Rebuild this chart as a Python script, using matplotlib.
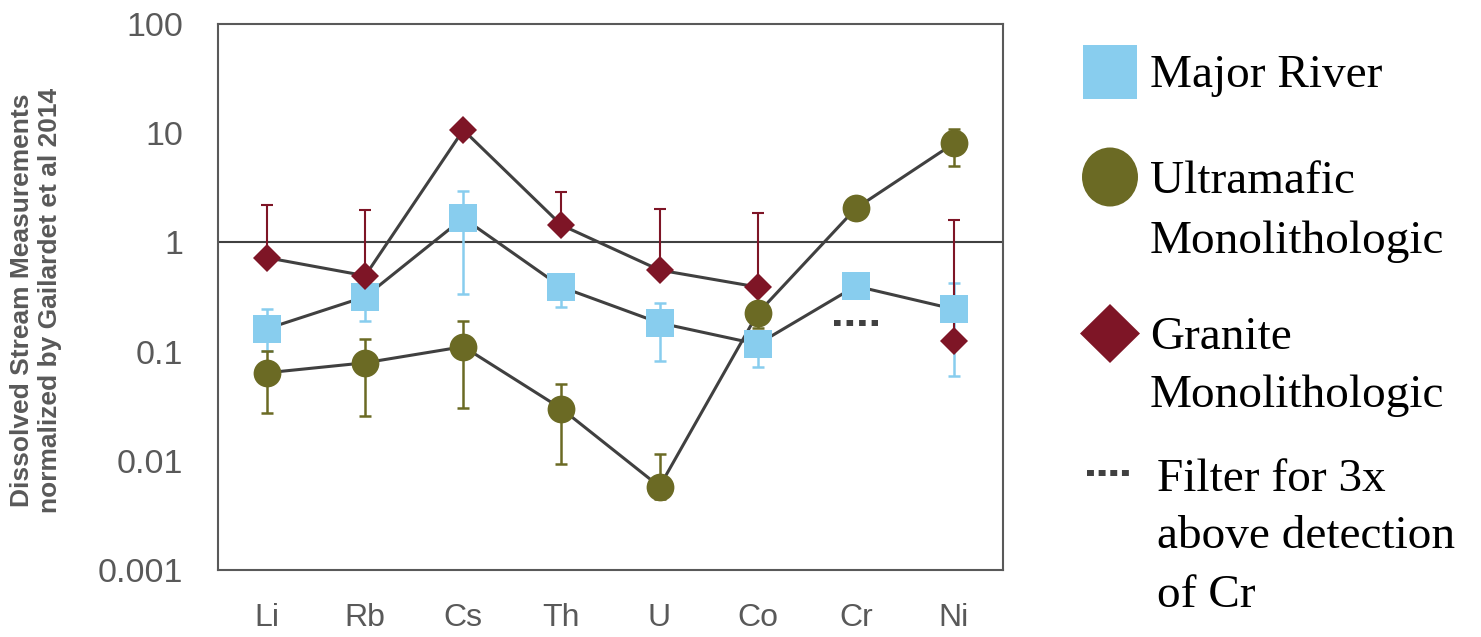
import numpy as np
import matplotlib
matplotlib.use("Agg")
import matplotlib.pyplot as plt
from matplotlib.patches import Rectangle, Ellipse, Polygon

# Element order along the x axis
elements = ["Li", "Rb", "Cs", "Th", "U", "Co", "Cr", "Ni"]

# Major river dissolved loads (normalized), with error bar limits
river = [0.162, 0.318, 1.67, 0.39, 0.183, 0.117, 0.398, 0.245]
river_low = [0.101, 0.19, 0.336, 0.258, 0.082, 0.072, 0.398, 0.060]
river_high = [0.246, 0.42, 2.96, 0.45, 0.277, 0.15, 0.398, 0.425]

# Ultramafic monolithologic streams
ultramafic = [0.064, 0.079, 0.111, 0.030, 0.0058, 0.224, 2.05, 8.08]
ultramafic_low = [0.0274, 0.0257, 0.0305, 0.0094, 0.0045, 0.164, 2.05, 5.0]
ultramafic_high = [0.101, 0.130, 0.192, 0.050, 0.0115, 0.27, 2.05, 10.9]

# Granite monolithologic streams (no Cr value, upper error only)
granite = [0.724, 0.495, 10.7, 1.44, 0.558, 0.39, np.nan, 0.126]
granite_high = [2.2, 1.97, 10.7, 2.9, 2.02, 1.87, np.nan, 1.6]

# Cr detection filter level
cr_filter = 0.182

blue = "#88CDEE"
olive = "#6B6A24"
red = "#7E1526"
dark = "#404040"
gray = "#595959"

x = np.arange(len(elements))
river = np.array(river)
ultramafic = np.array(ultramafic)
granite = np.array(granite)

fig = plt.figure(figsize=(14.81, 6.37), dpi=100)
ax = fig.add_axes([218 / 1481, 67 / 637, 785 / 1481, 546 / 637])

# error bars first so markers sit on top
ax.errorbar(x, river, yerr=[river - np.array(river_low), np.array(river_high) - river],
            fmt="none", ecolor=blue, elinewidth=1.8, capsize=4.3, capthick=1.8, zorder=2)
ax.errorbar(x, ultramafic, yerr=[ultramafic - np.array(ultramafic_low),
                                 np.array(ultramafic_high) - ultramafic],
            fmt="none", ecolor=olive, elinewidth=1.8, capsize=4.3, capthick=1.8, zorder=2)
ax.errorbar(x, granite, yerr=[np.zeros(len(x)), np.array(granite_high) - granite],
            fmt="none", ecolor=red, elinewidth=1.5, capsize=4.3, capthick=1.5, zorder=2)

ax.axhline(1, color=dark, lw=1.5, zorder=1)

for vals in (river, granite, ultramafic):
    ax.plot(x, vals, color=dark, lw=2.2, zorder=3)

ax.plot(x, river, ls="none", marker="s", ms=20, color=blue, mew=0, zorder=4)
ax.plot(x, granite, ls="none", marker="D", ms=14.3, color=red, mew=0, zorder=5)
ax.plot(x, ultramafic, ls="none", marker="o", ms=20, color=olive, mew=0, zorder=6)

# detection filter for Cr
cr = elements.index("Cr")
ax.plot([cr - 0.227, cr + 0.227], [cr_filter, cr_filter], color=dark, lw=4.3,
        ls=(0, (1.1, 1.0)), solid_capstyle="butt", dash_capstyle="butt", zorder=3)

ax.set_yscale("log")
ax.set_ylim(0.001, 100)
ax.set_xlim(-0.5, len(elements) - 0.5)
ax.set_yticks([0.001, 0.01, 0.1, 1, 10, 100])
ax.set_yticklabels(["0.001", "0.01", "0.1", "1", "10", "100"],
                   family=["Liberation Sans", "DejaVu Sans"], fontsize=24.5, color=gray)
ax.yaxis.set_minor_locator(matplotlib.ticker.NullLocator())
ax.set_xticks(x)
ax.set_xticklabels(elements, family=["Liberation Sans", "DejaVu Sans"],
                   fontsize=23, color=gray)
ax.tick_params(axis="y", length=0, pad=25)
ax.tick_params(axis="x", length=0, pad=24)
for s in ax.spines.values():
    s.set_color(gray)
    s.set_linewidth(1.5)

fig.text(36 / 1481, 1 - 300 / 637,
         "Dissolved Stream Measurements\nnormalized by Gailardet et al 2014",
         rotation=90, ha="center", va="center", multialignment="center",
         fontsize=19, fontweight="bold", color=gray, linespacing=1.25,
         family=["Liberation Sans", "DejaVu Sans"])

# legend drawn by hand in pixel space
lg = fig.add_axes([0, 0, 1, 1], zorder=-1)
lg.set_xlim(0, 1481)
lg.set_ylim(637, 0)
lg.axis("off")
lg.add_patch(Rectangle((1083, 45), 54, 54, color=blue, lw=0))
lg.add_patch(Ellipse((1110, 177), 56, 59, color=olive, lw=0))
lg.add_patch(Polygon([(1110, 304), (1140, 333.5), (1110, 363), (1080, 333.5)],
                     closed=True, color=red, lw=0))
lg.plot([1087, 1129], [473, 473], color=dark, lw=4.3, ls=(0, (1.16, 0.79)),
        solid_capstyle="butt", dash_capstyle="butt")

serif = dict(family=["Liberation Serif", "DejaVu Serif"], fontsize=34, color="black",
             va="baseline", ha="left")
lines = [
    (1150, 87, "Major River"),
    (1150, 193, "Ultramafic"),
    (1150, 253, "Monolithologic"),
    (1150, 349, "Granite"),
    (1150, 407, "Monolithologic"),
    (1157, 491, "Filter for 3x"),
    (1157, 548, "above detection"),
    (1157, 607, "of Cr"),
]
for tx, ty, t in lines:
    lg.text(tx, ty, t, **serif)

fig.savefig("out.png", dpi=100)
